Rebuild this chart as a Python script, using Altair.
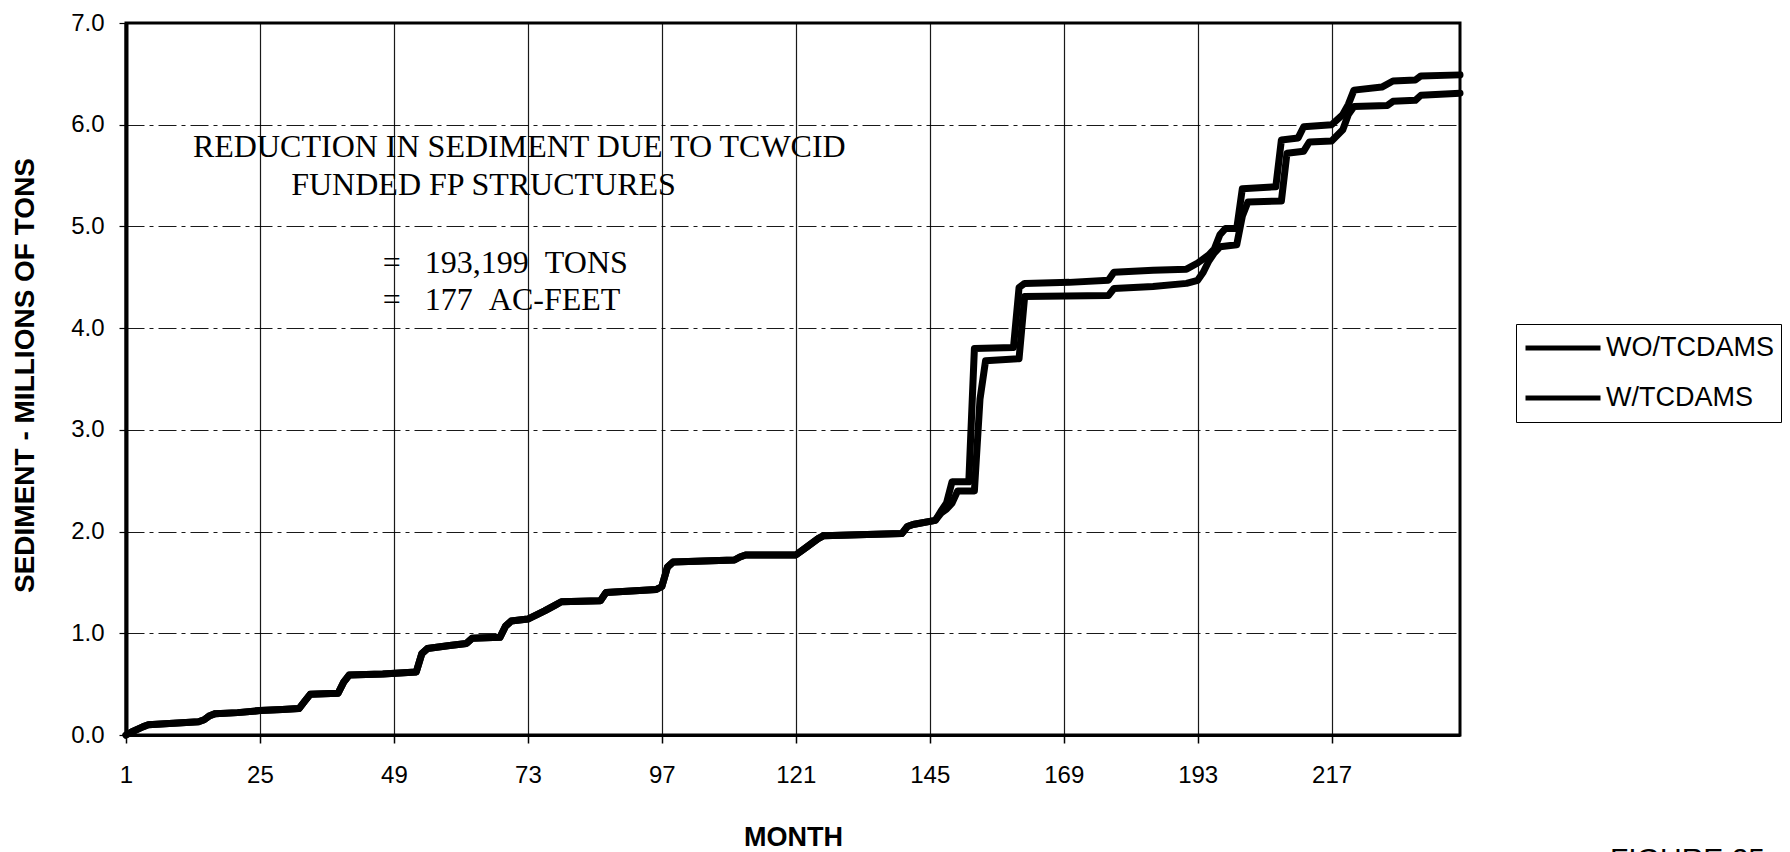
import altair as alt
import pandas as pd

# ---------------- data ----------------
SERIES = ["WO/TCDAMS", "W/TCDAMS"]

# months 1..146: both series coincide
common_months = [1, 2, 4, 5, 14, 15, 16, 17, 21, 25, 29, 32, 33, 34, 39, 40, 41, 47, 53, 54,
                 55, 59, 62, 63, 68, 69, 70, 73, 76, 78, 79, 86, 87, 96, 97, 98, 99, 110, 111, 112,
                 121, 123, 125, 126, 140, 141, 142, 146]
common_values = [0.00, 0.03, 0.08, 0.10, 0.13, 0.15, 0.19, 0.21, 0.22, 0.24, 0.25, 0.26, 0.33, 0.40, 0.41,
                 0.52, 0.59, 0.60, 0.62, 0.80, 0.85, 0.88, 0.90, 0.95, 0.96, 1.07, 1.12, 1.14, 1.22, 1.28,
                 1.31, 1.32, 1.40, 1.43, 1.46, 1.65, 1.70, 1.72, 1.75, 1.77, 1.77, 1.85, 1.93, 1.96, 1.98,
                 2.05, 2.07, 2.11]

wo_months = [147, 148, 149, 152, 153, 160, 161, 162, 170, 177, 178, 185, 191, 193, 195, 196, 197, 198,
             200, 201, 207, 208, 211, 212, 217, 219, 220, 221, 226, 228, 232, 233, 240]
wo_values = [2.20, 2.28, 2.49, 2.49, 3.80, 3.81, 4.40, 4.44, 4.45, 4.47, 4.55, 4.57, 4.58, 4.64, 4.72,
             4.78, 4.92, 4.98, 4.98, 5.37, 5.39, 5.85, 5.87, 5.98, 6.00, 6.10, 6.20, 6.34, 6.37, 6.43,
             6.44, 6.48, 6.49]

w_months = [147, 148, 149, 150, 153, 154, 155, 161, 162, 177, 178, 185, 191, 193, 194, 195, 196, 197,
            200, 201, 202, 208, 209, 212, 213, 217, 219, 220, 221, 227, 228, 232, 233, 240]
w_values = [2.18, 2.22, 2.28, 2.40, 2.40, 3.30, 3.68, 3.70, 4.31, 4.32, 4.39, 4.41, 4.44, 4.47, 4.55,
            4.66, 4.74, 4.80, 4.82, 5.10, 5.24, 5.25, 5.72, 5.74, 5.83, 5.84, 5.95, 6.10, 6.18, 6.19,
            6.23, 6.24, 6.29, 6.31]

x_ticks = [1, 25, 49, 73, 97, 121, 145, 169, 193, 217]
y_ticks = [0, 1, 2, 3, 4, 5, 6, 7]

NB = "\u00a0"
note_lines = [
    "REDUCTION IN SEDIMENT DUE TO TCWCID",
    "FUNDED FP STRUCTURES",
    "=" + NB * 3 + "193,199" + NB * 2 + "TONS",
    "=" + NB * 3 + "177" + NB * 2 + "AC-FEET",
]
note_month = [13.0, 30.6, 47.0, 47.0]
note_value = [5.68, 5.31, 4.54, 4.18]

figure_label = ["FIGURE 25"]

# ---------------- tables ----------------
rows = []
for name, ms, vs in [(SERIES[0], wo_months, wo_values), (SERIES[1], w_months, w_values)]:
    for m, v in zip(common_months + ms, common_values + vs):
        rows.append({"series": name, "month": m, "value": v})
df = pd.DataFrame(rows)
notes = pd.DataFrame({"month": note_month, "value": note_value, "text": note_lines})
fig_df = pd.DataFrame({"text": figure_label})

SANS = "Liberation Sans"
SERIF = "Liberation Serif"

x_enc = alt.X(
    "month:Q",
    scale=alt.Scale(domain=[1, 240], nice=False, zero=False),
    axis=alt.Axis(
        values=x_ticks, format="d", title="MONTH",
        titleFont=SANS, titleFontSize=27, titleFontWeight="bold", titleColor="black",
        titleBaseline="alphabetic", titleY=110,
        labelFont=SANS, labelFontSize=24, labelColor="black", labelPadding=20,
        labelFlush=False, labelOverlap=False,
        tickSize=8, tickColor="black", tickWidth=1.5,
        domainColor="black", domainWidth=3,
        grid=True, gridColor="black", gridWidth=1.2, gridOpacity=0.9,
    ),
)
y_enc = alt.Y(
    "value:Q",
    scale=alt.Scale(domain=[0, 7], nice=False, zero=True),
    axis=alt.Axis(
        values=y_ticks, format=".1f", title="SEDIMENT - MILLIONS OF TONS",
        titleFont=SANS, titleFontSize=28, titleFontWeight="bold", titleColor="black",
        titleAngle=270, titleBaseline="alphabetic", titleAlign="center",
        titleX=-93, titleY=352,
        labelFont=SANS, labelFontSize=24, labelColor="black", labelPadding=15,
        tickSize=7, tickColor="black", tickWidth=1.2,
        domainColor="black", domainWidth=4,
        grid=True, gridColor="black", gridWidth=1.2, gridDash=[18, 5, 4, 5], gridOpacity=0.9,
    ),
)

lines = alt.Chart(df).mark_line(
    strokeWidth=7, strokeJoin="round", strokeCap="round"
).encode(
    x=x_enc,
    y=y_enc,
    color=alt.Color(
        "series:N",
        scale=alt.Scale(domain=SERIES, range=["#000000", "#000000"]),
        legend=alt.Legend(
            orient="none", legendX=1390, legendY=301, title=None,
            symbolType="stroke", symbolSize=5625, symbolStrokeWidth=5,
            clipHeight=34, rowPadding=16, padding=7, labelOffset=3,
            labelFont=SANS, labelFontSize=27, labelColor="black", labelLimit=400,
            strokeColor="black", fillColor="white", cornerRadius=0,
        ),
    ),
    order=alt.Order("month:Q"),
)

text = alt.Chart(notes).mark_text(
    align="left", baseline="alphabetic", font=SERIF, fontSize=32, color="black"
).encode(
    x=alt.X("month:Q"),
    y=alt.Y("value:Q"),
    text="text:N",
)

fig_text = alt.Chart(fig_df).mark_text(
    align="left", baseline="alphabetic", font=SANS, fontSize=30, color="black"
).encode(
    x=alt.value(1484),
    y=alt.value(846),
    text="text:N",
)

chart = alt.layer(lines, text, fig_text).properties(
    width=1334,
    height=712,
    autosize=alt.AutoSizeParams(type="none"),
    padding={"left": 118, "top": 15, "right": 322, "bottom": 125},
    background="white",
).configure_view(stroke="black", strokeWidth=3)

chart.save("out.html", embed_options={"renderer": "svg", "actions": False})
